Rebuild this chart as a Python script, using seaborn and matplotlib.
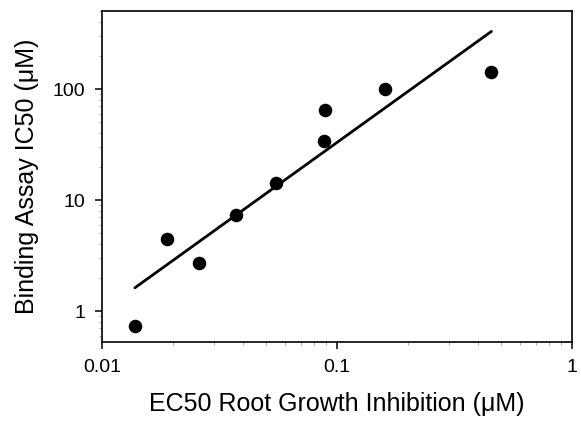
import numpy as np
import pandas as pd
import seaborn as sns
import matplotlib.pyplot as plt
from matplotlib.ticker import FixedLocator, FixedFormatter, LogLocator, NullFormatter

# %% data
ec50_root = [0.0138, 0.0189, 0.0259, 0.0371, 0.055, 0.088, 0.089, 0.160, 0.454]
ic50_binding = [0.73, 4.48, 2.71, 7.37, 14.3, 34.0, 64.7, 99.4, 142.0]
x_ticks = [0.01, 0.1, 1]
x_ticklabels = ["0.01", "0.1", "1"]
y_ticks = [1, 10, 100]
y_ticklabels = ["1", "10", "100"]

df = pd.DataFrame({"ec50": ec50_root, "ic50": ic50_binding})

# least squares fit in log-log space
slope, intercept = np.polyfit(np.log10(df["ec50"]), np.log10(df["ic50"]), 1)
fit = pd.DataFrame({"ec50": [df["ec50"].min(), df["ec50"].max()]})
fit["ic50"] = 10 ** (intercept + slope * np.log10(fit["ec50"]))

# %% plot
sns.set_style("ticks")
plt.rcParams["font.family"] = ["Liberation Sans", "DejaVu Sans"]

fig = plt.figure(figsize=(5.81, 4.22), dpi=100)
ax = fig.add_axes([0.1756, 0.1896, 0.8089, 0.7844])

sns.lineplot(data=fit, x="ec50", y="ic50", color="black", lw=2.0, ax=ax)
sns.scatterplot(data=df, x="ec50", y="ic50", color="black", s=95,
                edgecolor="black", linewidth=0, zorder=3, ax=ax)

ax.set_xscale("log")
ax.set_yscale("log")
ax.set_xlim(0.01, 1)
ax.set_ylim(0.526, 505)

ax.xaxis.set_major_locator(FixedLocator(x_ticks))
ax.xaxis.set_major_formatter(FixedFormatter(x_ticklabels))
ax.yaxis.set_major_locator(FixedLocator(y_ticks))
ax.yaxis.set_major_formatter(FixedFormatter(y_ticklabels))
ax.xaxis.set_minor_locator(LogLocator(base=10, subs=np.arange(2, 10)))
ax.yaxis.set_minor_locator(LogLocator(base=10, subs=np.arange(2, 10)))
ax.xaxis.set_minor_formatter(NullFormatter())
ax.yaxis.set_minor_formatter(NullFormatter())

ax.tick_params(which="major", direction="out", length=5, width=1.1,
               labelsize=14, pad=7, colors="black", labelcolor="black")
ax.tick_params(which="minor", direction="out", length=2.5, width=0.5,
               color="#888888")

for side in ["top", "right", "left", "bottom"]:
    ax.spines[side].set_visible(True)
    ax.spines[side].set_linewidth(1.2)
    ax.spines[side].set_color("black")

ax.set_xlabel("EC50 Root Growth Inhibition (\u03bcM)", fontsize=18,
              labelpad=12, color="black")
ax.set_ylabel("Binding Assay IC50 (\u03bcM)", fontsize=18, labelpad=10,
              color="black")

fig.savefig("out.png", dpi=100)
